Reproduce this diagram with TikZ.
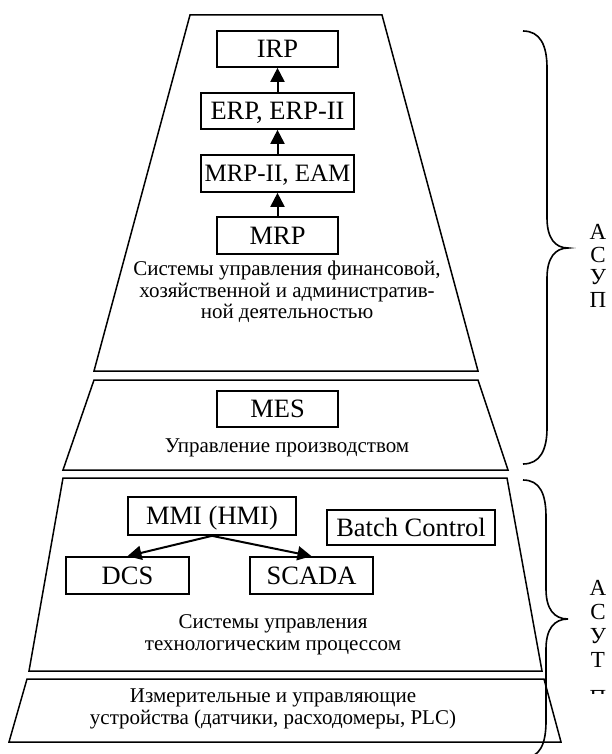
\documentclass[tikz,border=0pt]{standalone}
\usepackage{fontspec}
\setmainfont{Liberation Serif}
\usetikzlibrary{arrows.meta}
\begin{document}
\begin{tikzpicture}[x=1pt,y=-1pt,
  layer/.style={draw,line width=1.5pt,line join=miter},
  box/.style={draw,line width=1.7pt,inner sep=0pt,text height=17pt,text depth=0pt,font=\fontsize{26.5}{28}\selectfont},
  body/.style={align=center,inner sep=0pt,font=\fontsize{21}{21.5}\selectfont},
  arr/.style={line width=2pt,-{Triangle[length=14pt,width=14pt]}},
  brace/.style={line width=1.6pt},
  letter/.style={inner sep=0pt,anchor=base,font=\fontsize{23}{24}\selectfont}]
\useasboundingbox (0,0) rectangle (611,754);
\clip (0,0) rectangle (611,754);
\fill[white] (0,0) rectangle (611,754);

% layers
\draw[layer] (190,15) -- (382,15) -- (478,371) -- (94,371) -- cycle;
\draw[layer] (94,380) -- (478,380) -- (508,470) -- (63,470) -- cycle;
\draw[layer] (63,478) -- (507,478) -- (542,671) -- (29,671) -- cycle;
\draw[layer] (27,679) -- (544,679) -- (561,742) -- (9,742) -- cycle;

% top layer
\node[box,minimum width=121pt,minimum height=36pt] (irp) at (277.5,49) {IRP};
\node[box,minimum width=153pt,minimum height=36pt] (erp) at (277.5,111) {ERP, ERP-II};
\node[box,minimum width=153pt,minimum height=37pt,font=\fontsize{25}{27}\selectfont] (mrpii) at (277.5,173.5) {MRP-II, EAM};
\node[box,minimum width=121pt,minimum height=37pt] (mrp) at (277.5,235.5) {MRP};
\draw[arr] (mrp) -- (mrpii);
\draw[arr] (mrpii) -- (erp);
\draw[arr] (erp) -- (irp);
\node[body] (fin) at (287,292) {Системы управления финансовой,\\хозяйственной и административ-\\ной деятельностью};

% MES layer
\node[box,minimum width=121pt,minimum height=36pt] (mes) at (277.5,409) {MES};
\node[body] (mest) at (287,448) {Управление производством};

% process layer
\node[box,minimum width=168pt,minimum height=38pt] (mmi) at (212,516) {MMI (HMI)};
\node[box,minimum width=168pt,minimum height=35pt] (batch) at (411,527.5) {Batch Control};
\node[box,minimum width=123pt,minimum height=37pt] (dcs) at (127.5,575.5) {DCS};
\node[box,minimum width=123pt,minimum height=37pt] (scada) at (311.5,575.5) {SCADA};
\draw[arr] (mmi.south) -- (dcs.north);
\draw[arr] (mmi.south) -- (scada.north);
\node[body] (tpt) at (273,635) {Системы управления\\технологическим процессом};

% field layer
\node[body] (dev) at (273,709) {Измерительные и управляющие\\устройства (датчики, расходомеры, PLC)};

% braces
\coordinate (b1t) at (523,31);
\coordinate (b1m) at (568,248);
\coordinate (b1b) at (523,464);
\draw[brace] (b1t) .. controls (540,31) and (547,45) .. (547,68) -- (547,218)
  .. controls (547,238) and (555,248) .. (b1m)
  .. controls (555,248) and (547,258) .. (547,278) -- (547,428)
  .. controls (547,450) and (540,464) .. (b1b);
\coordinate (b2t) at (523,480);
\coordinate (b2m) at (568,619);
\coordinate (b2b) at (523,758);
\draw[brace] (b2t) .. controls (540,480) and (546,494) .. (546,517) -- (546,589)
  .. controls (546,609) and (554,619) .. (b2m)
  .. controls (554,619) and (546,629) .. (546,649) -- (546,721)
  .. controls (546,744) and (540,758) .. (b2b);

% letters
\node[letter] (a1) at (598,239.5) {А};
\node[letter] (a2) at (598,262) {С};
\node[letter] (a3) at (598,284.5) {У};
\node[letter] (a4) at (598,307) {П};
\node[letter] (c1) at (598,595.5) {А};
\node[letter] (c2) at (598,619.5) {С};
\node[letter] (c3) at (598,643.5) {У};
\node[letter] (c4) at (598,667.5) {Т};
\begin{scope}
\clip (580,680) rectangle (620,693);
\node[letter] (c5) at (598,705.5) {П};
\end{scope}
\end{tikzpicture}
\end{document}
